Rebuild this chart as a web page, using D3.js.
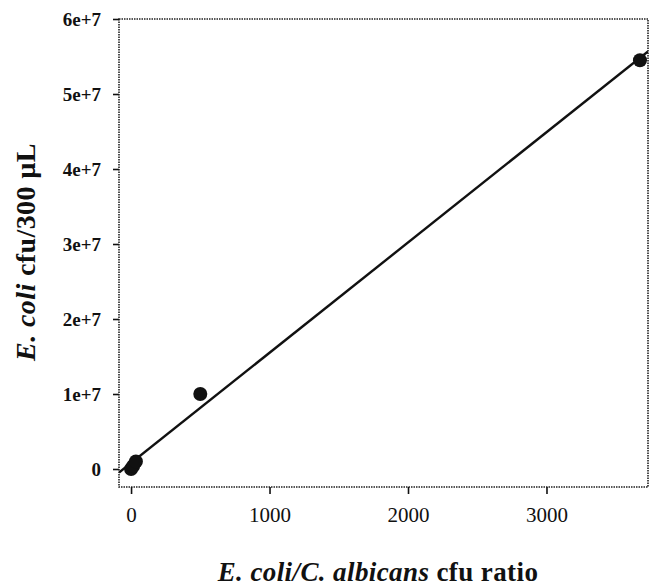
<!DOCTYPE html>
<html>
<head>
<meta charset="utf-8">
<script src="https://d3js.org/d3.v7.min.js"></script>
<style>
  body { margin: 0; background: #fff; }
  svg { display: block; }
</style>
</head>
<body>
<div id="chart"></div>
<script>
var w = 649,
    h = 588;

// data
var ratio = [0, 15, 35, 500, 3675];
var cfu = [0, 4e5, 1e6, 1e7, 5.45e7];
var xTicks = [0, 1000, 2000, 3000];
var yTicks = [0, 1e7, 2e7, 3e7, 4e7, 5e7, 6e7];
var yTickLabels = ["0", "1e+7", "2e+7", "3e+7", "4e+7", "5e+7", "6e+7"];
// fitted line: cfu = slope * ratio + intercept
var fitSlope = 14700;
var fitIntercept = 8e5;

var margin = {left: 119, right: 1, top: 19, bottom: 101};

var svg = d3.select("#chart")
  .append("svg")
  .attr("width", w)
  .attr("height", h);

var x = d3.scaleLinear()
  .domain([-87, 3733])
  .range([margin.left, w - margin.right]);

var y = d3.scaleLinear()
  .domain([-0.24e7, 6e7])
  .range([h - margin.bottom, margin.top]);

// dotted frame
svg.append("rect")
  .attr("x", x.range()[0])
  .attr("y", y.range()[1])
  .attr("width", x.range()[1] - x.range()[0])
  .attr("height", y.range()[0] - y.range()[1])
  .attr("fill", "none")
  .attr("stroke", "#222")
  .attr("stroke-width", 1.6)
  .attr("stroke-dasharray", "1.5,1");

svg.append("clipPath").attr("id", "clip")
  .append("rect")
  .attr("x", x.range()[0])
  .attr("y", y.range()[1])
  .attr("width", x.range()[1] - x.range()[0])
  .attr("height", y.range()[0] - y.range()[1]);

// axes
var yAxis = svg.append("g")
  .attr("transform", "translate(" + x.range()[0] + ",0)")
  .call(d3.axisLeft(y).tickValues(yTicks).tickSize(6).tickPadding(12)
    .tickFormat(function(d, i) { return yTickLabels[i]; }));
yAxis.select(".domain").remove();
yAxis.selectAll("line").attr("stroke", "#111").attr("stroke-width", 1.6);
yAxis.selectAll("text")
  .attr("font-family", "'Liberation Serif', 'Times New Roman', serif")
  .attr("font-weight", "bold")
  .attr("font-size", "19px")
  .attr("fill", "#111");

var xAxis = svg.append("g")
  .attr("transform", "translate(0," + y.range()[0] + ")")
  .call(d3.axisBottom(x).tickValues(xTicks).tickSize(7).tickPadding(13)
    .tickFormat(d3.format("d")));
xAxis.select(".domain").remove();
xAxis.selectAll("line").attr("stroke", "#111").attr("stroke-width", 1.6);
xAxis.selectAll("text")
  .attr("font-family", "'Liberation Serif', 'Times New Roman', serif")
  .attr("font-size", "21px")
  .attr("fill", "#111");

// regression line
var x0 = x.domain()[0], x1 = x.domain()[1];
svg.append("line")
  .attr("clip-path", "url(#clip)")
  .attr("x1", x(x0))
  .attr("y1", y(fitSlope * x0 + fitIntercept))
  .attr("x2", x(x1))
  .attr("y2", y(fitSlope * x1 + fitIntercept))
  .attr("stroke", "#111")
  .attr("stroke-width", 2.4);

// points
svg.selectAll(".dot")
  .data(ratio)
  .enter()
  .append("circle")
  .attr("class", "dot")
  .attr("cx", function(d) { return x(d); })
  .attr("cy", function(d, i) { return y(cfu[i]); })
  .attr("r", 7)
  .attr("fill", "#111");

// axis titles
var xt = svg.append("text")
  .attr("x", 378)
  .attr("y", 581)
  .attr("text-anchor", "middle")
  .attr("font-family", "'Liberation Serif', 'Times New Roman', serif")
  .attr("font-weight", "bold")
  .attr("font-size", "27px")
  .attr("letter-spacing", "0.4px")
  .attr("fill", "#111");
xt.append("tspan").attr("font-style", "italic").text("E. coli/C. albicans");
xt.append("tspan").text(" cfu ratio");

var yt = svg.append("text")
  .attr("transform", "translate(35,252) rotate(-90)")
  .attr("text-anchor", "middle")
  .attr("font-family", "'Liberation Serif', 'Times New Roman', serif")
  .attr("font-weight", "bold")
  .attr("font-size", "28px")
  .attr("letter-spacing", "0.4px")
  .attr("fill", "#111");
yt.append("tspan").attr("font-style", "italic").text("E. coli");
yt.append("tspan").text(" cfu/300 µL");
</script>
</body>
</html>
